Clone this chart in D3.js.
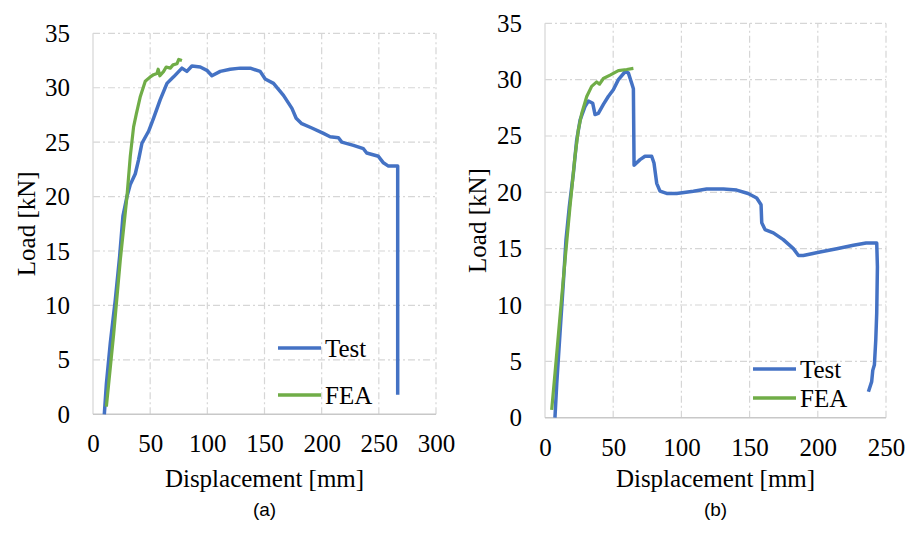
<!DOCTYPE html>
<html>
<head>
<meta charset="utf-8">
<script src="https://cdn.jsdelivr.net/npm/d3@7"></script>
<style>
  body { margin: 0; background: #fff; }
  svg { display: block; }
</style>
</head>
<body>
<div id="graph"></div>
<script>
// data: [displacement mm, load kN]
var testA = [[9.9,0],[11.7,2.8],[15.1,6.5],[19.5,10.5],[23.3,14.5],[26.2,18.2],[29.7,20.0],[32.6,21.1],[37,22.1],[39.9,23.4],
  [42.8,24.9],[48.6,26],[53,27.2],[58.8,28.9],[64.7,30.4],[70.5,31],[77.8,31.8],[82.1,31.5],[86.5,32.0],[93.8,31.9],
  [99.6,31.6],[104,31.1],[111.3,31.5],[120,31.7],[128.8,31.8],[137.5,31.8],[146.2,31.5],[150.6,30.8],[157.9,30.4],
  [166.6,29.3],[174,28.1],[177.7,27.2],[182.6,26.7],[191.4,26.3],[201.6,25.8],[207.4,25.5],[214.7,25.4],[217.6,25.0],
  [227.8,24.7],[236.5,24.4],[239.4,24.0],[249.6,23.7],[254,23.1],[258.4,22.8],[266.5,22.8],[266.5,1.8]];
var feaA = [[11.7,0.7],[18.1,7.4],[23.9,14.2],[29.7,20],[32.6,23.7],[35.5,26.4],[37.9,27.6],[41.4,29.2],[45.7,30.6],
  [50.1,31.0],[53,31.2],[55.9,31.3],[57,31.7],[58.5,31.1],[61.8,31.5],[64,31.9],[67.6,31.8],[70,32.1],[73.4,32.2],[75,32.6],[77.8,32.5]];
var testB = [[7.3,0],[8.6,3.0],[11,7.5],[13.4,11.9],[15.4,15.8],[17.8,18.7],[20.8,21.7],[23.2,24.6],[25.7,26.4],[29.3,27.6],
  [31.8,28.1],[35,27.9],[36.7,26.9],[39.1,27.0],[42.8,27.8],[46.4,28.5],[50.1,29.1],[53.8,30.0],[58.7,30.7],[61.1,30.6],
  [63.5,29.7],[64.8,29.2],[65.3,22.4],[69.7,22.9],[73.3,23.2],[78.2,23.2],[79.9,22.6],[81.9,20.8],[84.3,20.1],[89.2,19.9],
  [96.5,19.9],[108.8,20.1],[118.5,20.3],[130.8,20.3],[140.5,20.2],[148.9,19.9],[155.2,19.5],[158.4,18.9],[158.9,17.3],
  [161.3,16.7],[167.4,16.4],[174.7,15.8],[182.1,15.0],[185.8,14.4],[189.4,14.4],[201.6,14.7],[213.9,15.0],[226.1,15.3],
  [235.4,15.5],[243.2,15.5],[243.7,13.4],[243.2,9.3],[242.5,6.9],[241.5,4.7],[240.3,4.2],[239.5,3.2],[237.1,2.3]];
var feaB = [[4.9,0.7],[7.3,3.9],[11,9.0],[14.7,14.0],[18.3,18.7],[22,23.2],[24.4,25.5],[26.9,27.0],[30.6,28.5],[34.2,29.4],
  [37.9,29.8],[40,29.6],[42.8,30.1],[47.7,30.4],[53.8,30.8],[59.9,30.9],[64.8,31.0]];

var xTicksA = [0,50,100,150,200,250,300];
var xTicksB = [0,50,100,150,200,250];
var yTicks = [0,5,10,15,20,25,30,35];
var seriesNames = ["Test","FEA"];
var colors = ["#4472C4","#70AD47"];

var serif = "'Liberation Serif', 'Times New Roman', 'DejaVu Serif', serif";

var svg = d3.select("#graph").append("svg").attr("width",918).attr("height",540);

var panels = [
  {left:93, right:436, top:33.3, bottom:414.3, xmax:300, xticks:xTicksA, test:testA, fea:feaA, tag:"(a)",
   legX:278, legY:[348,395], yTitleX:35, xLabY:452},
  {left:545, right:886, top:23.3, bottom:417.7, xmax:250, xticks:xTicksB, test:testB, fea:feaB, tag:"(b)",
   legX:753, legY:[369,398], yTitleX:486, xLabY:456}
];

panels.forEach(function(p){
  var x = d3.scaleLinear().domain([0,p.xmax]).range([p.left,p.right]);
  var y = d3.scaleLinear().domain([0,35]).range([p.bottom,p.top]);
  var g = svg.append("g");

  // grid
  g.append("g").selectAll("line").data(p.xticks.slice(1)).enter().append("line")
    .attr("x1",function(d){return x(d);}).attr("x2",function(d){return x(d);})
    .attr("y1",y(0)).attr("y2",y(35))
    .attr("stroke","#d6d6d6").attr("stroke-width",1.2).attr("stroke-dasharray","7,3,2,3");
  g.append("g").selectAll("line").data(yTicks.slice(1)).enter().append("line")
    .attr("x1",x(0)).attr("x2",x(p.xmax))
    .attr("y1",function(d){return y(d);}).attr("y2",function(d){return y(d);})
    .attr("stroke","#d6d6d6").attr("stroke-width",1.2).attr("stroke-dasharray","7,3,2,3");
  // axis lines
  g.append("line").attr("x1",x(0)).attr("x2",x(0)).attr("y1",y(0)).attr("y2",y(35))
    .attr("stroke","#d9d9d9").attr("stroke-width",1.3);
  g.append("line").attr("x1",x(0)).attr("x2",x(p.xmax)).attr("y1",y(0)).attr("y2",y(0))
    .attr("stroke","#c8c8c8").attr("stroke-width",1.5);

  // tick labels
  var xa = g.append("g").attr("transform","translate(0,"+p.xLabY+")")
    .call(d3.axisBottom(x).tickValues(p.xticks).tickSize(0).tickPadding(0));
  xa.select(".domain").remove();
  xa.selectAll(".tick text").attr("dy",0);
  var ya = g.append("g").attr("transform","translate("+(p.left-23)+",0)")
    .call(d3.axisLeft(y).tickValues(yTicks).tickSize(0).tickPadding(0));
  ya.select(".domain").remove();
  g.selectAll(".tick text").attr("font-family",serif).attr("font-size",25).attr("fill","#000")
    .style("font-family",serif).style("font-size","25px");

  // curves
  var line = d3.line().x(function(d){return x(d[0]);}).y(function(d){return y(d[1]);});
  g.append("path").datum(p.test).attr("d",line).attr("fill","none")
    .attr("stroke",colors[0]).attr("stroke-width",3.5).attr("stroke-linejoin","round");
  g.append("path").datum(p.fea).attr("d",line).attr("fill","none")
    .attr("stroke",colors[1]).attr("stroke-width",3.2).attr("stroke-linejoin","round");

  // legend
  seriesNames.forEach(function(n,i){
    g.append("line").attr("x1",p.legX).attr("x2",p.legX+43)
      .attr("y1",p.legY[i]).attr("y2",p.legY[i])
      .attr("stroke",colors[i]).attr("stroke-width",3.5);
    g.append("text").attr("x",p.legX+47).attr("y",p.legY[i]+9).text(n)
      .style("font-family",serif).style("font-size","25px");
  });

  // titles
  var cx = (p.left+p.right)/2;
  g.append("text").attr("x",cx).attr("y",487).attr("text-anchor","middle")
    .text("Displacement [mm]")
    .style("font-family",serif).style("font-size","25px");
  g.append("text").attr("transform","translate("+p.yTitleX+","+((p.top+p.bottom)/2)+") rotate(-90)")
    .attr("text-anchor","middle").text("Load [kN]")
    .style("font-family",serif).style("font-size","25px");
  g.append("text").attr("x",cx).attr("y",516).attr("text-anchor","middle").text(p.tag)
    .style("font-family","'Liberation Sans', sans-serif").style("font-size","19px");
});
</script>
</body>
</html>
